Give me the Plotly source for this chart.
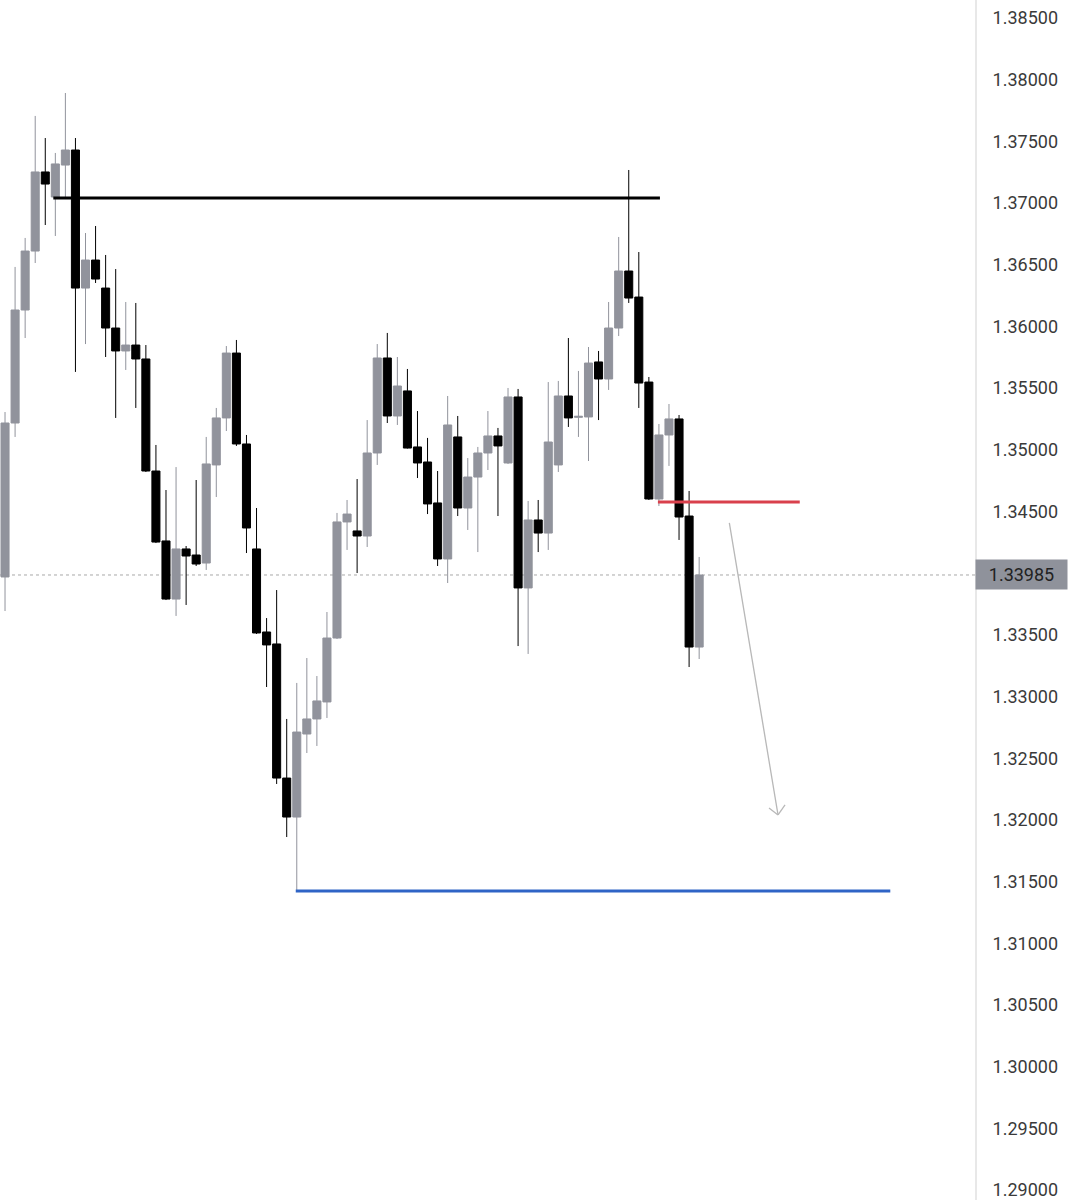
import plotly.graph_objects as go

# ---- data ----
opens = [1.33969, 1.35217, 1.36133, 1.36611, 1.37252, 1.37049, 1.37308, 1.37430, 1.36311, 1.36538,
         1.36311, 1.35987, 1.35801, 1.35849, 1.35736, 1.34828, 1.34261, 1.33790, 1.34196, 1.34147,
         1.34082, 1.34877, 1.35258, 1.35784, 1.35047, 1.34196, 1.33523, 1.33426, 1.32339, 1.32023,
         1.32696, 1.32818, 1.32956, 1.33474, 1.34415, 1.34342, 1.34301, 1.34974, 1.35744, 1.35274,
         1.35477, 1.35023, 1.34901, 1.34569, 1.34115, 1.35104, 1.34528, 1.34779, 1.34974, 1.35112,
         1.34893, 1.35428, 1.33880, 1.34431, 1.34325, 1.34877, 1.35436, 1.35263, 1.35266, 1.35712,
         1.35574, 1.35987, 1.36449, 1.36238, 1.35549, 1.34601, 1.35120, 1.35250, 1.34463, 1.33401]
highs = [1.35306, 1.36482, 1.36717, 1.37706, 1.37527, 1.37406, 1.37892, 1.37527, 1.36757, 1.36814,
         1.36579, 1.36465, 1.36198, 1.36190, 1.35849, 1.35039, 1.34674, 1.34860, 1.34220, 1.34755,
         1.35104, 1.35339, 1.35841, 1.35890, 1.35120, 1.34528, 1.33636, 1.33863, 1.32818, 1.33110,
         1.33312, 1.33166, 1.33685, 1.34488, 1.34593, 1.34763, 1.35241, 1.35857, 1.35947, 1.35752,
         1.35655, 1.35314, 1.35096, 1.34828, 1.35436, 1.35274, 1.34933, 1.35023, 1.35314, 1.35177,
         1.35501, 1.35493, 1.34585, 1.34593, 1.35549, 1.35558, 1.35906, 1.35639, 1.35833, 1.35801,
         1.36198, 1.36725, 1.37268, 1.36603, 1.35590, 1.35209, 1.35371, 1.35282, 1.34666, 1.34131]
lows = [1.33693, 1.35104, 1.35906, 1.36514, 1.36822, 1.36733, 1.37049, 1.35631, 1.35857, 1.36352,
        1.35752, 1.35258, 1.35647, 1.35339, 1.34820, 1.34244, 1.33782, 1.33653, 1.33742, 1.34058,
        1.34026, 1.34617, 1.35152, 1.35031, 1.34163, 1.33507, 1.33077, 1.32291, 1.31861, 1.31432,
        1.32542, 1.32599, 1.32826, 1.33466, 1.34188, 1.34001, 1.34212, 1.34877, 1.35217, 1.35201,
        1.35010, 1.34771, 1.34479, 1.34058, 1.33920, 1.34463, 1.34350, 1.34171, 1.34836, 1.34463,
        1.34885, 1.33409, 1.33345, 1.34171, 1.34188, 1.34820, 1.35185, 1.35104, 1.34909, 1.35241,
        1.35485, 1.35922, 1.36190, 1.35339, 1.34593, 1.34544, 1.34869, 1.34269, 1.33239, 1.33304]
closes = [1.35217, 1.36133, 1.36611, 1.37252, 1.37154, 1.37317, 1.37430, 1.36311, 1.36538, 1.36384,
          1.35987, 1.35801, 1.35849, 1.35736, 1.34828, 1.34252, 1.33790, 1.34196, 1.34139, 1.34074,
          1.34885, 1.35258, 1.35784, 1.35047, 1.34366, 1.33515, 1.33418, 1.32339, 1.32023, 1.32712,
          1.32818, 1.32964, 1.33474, 1.34415, 1.34479, 1.34301, 1.34974, 1.35744, 1.35274, 1.35517,
          1.35014, 1.34893, 1.34561, 1.34115, 1.35201, 1.34528, 1.34779, 1.34974, 1.35112, 1.35031,
          1.35428, 1.33880, 1.34431, 1.34325, 1.35063, 1.35436, 1.35258, 1.35271, 1.35703, 1.35574,
          1.35987, 1.36449, 1.36230, 1.35541, 1.34601, 1.35120, 1.35250, 1.34455, 1.33401, 1.33985]
bar_index = list(range(len(opens)))

current_price = 1.33985

# drawn levels: (price, start bar, end bar)
resistance_level = [1.37041, 4.8, 65.1]
entry_level = [1.34577, 64.9, 79.0]
target_level = [1.31424, 28.9, 88.0]
# projection arrow: (bar, price) start and end
arrow_start = [72.0, 1.34407]
arrow_end = [76.84, 1.32040]

# 1.34000 is hidden behind the current-price label in the reference
y_ticks = [1.29, 1.295, 1.30, 1.305, 1.31, 1.315, 1.32, 1.325, 1.33, 1.335,
           1.345, 1.35, 1.355, 1.36, 1.365, 1.37, 1.375, 1.38, 1.385]

# ---- styling ----
UP = "#91939c"
DOWN = "#000000"
FONT = "Roboto"

fig = go.Figure()
fig.add_trace(go.Candlestick(
    x=bar_index, open=opens, high=highs, low=lows, close=closes,
    increasing=dict(line=dict(color=UP, width=1), fillcolor=UP),
    decreasing=dict(line=dict(color=DOWN, width=1), fillcolor=DOWN),
    showlegend=False, hoverinfo="skip",
))

shapes = []
# current price dotted line
shapes.append(dict(type="line", xref="paper", yref="y", x0=0, x1=1,
                   y0=current_price, y1=current_price,
                   line=dict(color="#a8a8a8", width=1, dash="dot"), layer="below"))
for lvl, col in ((resistance_level, "#000000"), (entry_level, "#d9404c"), (target_level, "#2f64c6")):
    shapes.append(dict(type="line", xref="x", yref="y", x0=lvl[1], x1=lvl[2],
                       y0=lvl[0], y1=lvl[0], line=dict(color=col, width=3)))
# arrow shaft
shapes.append(dict(type="line", xref="x", yref="y", x0=arrow_start[0], y0=arrow_start[1],
                   x1=arrow_end[0], y1=arrow_end[1], line=dict(color="#b8b8b8", width=1.3)))
# open chevron head (pixel offsets around the tip)
for dx, dy in ((-9, 7), (7, 10)):
    shapes.append(dict(type="line", xref="x", yref="y", xsizemode="pixel", ysizemode="pixel",
                       xanchor=arrow_end[0], yanchor=arrow_end[1],
                       x0=dx, y0=dy, x1=0, y1=0, line=dict(color="#b8b8b8", width=1.3)))

fig.update_layout(
    width=1071, height=1200,
    margin=dict(l=0, r=96, t=0, b=0),
    paper_bgcolor="white", plot_bgcolor="white",
    font=dict(family=FONT, size=18, color="#333333"),
    boxgap=0.2, boxgroupgap=0,
    shapes=shapes,
    xaxis=dict(range=[-0.5, 96.42], visible=False, rangeslider=dict(visible=False),
               showgrid=False, zeroline=False),
    yaxis=dict(range=[1.289187, 1.386459], side="right", tickvals=y_ticks,
               tickformat=".5f", showgrid=False, zeroline=False,
               showline=True, linecolor="#e8e8e8", linewidth=2,
               ticks="", ticklabelstandoff=12, ticklabeloverflow="allow",
               tickfont=dict(family=FONT, size=18, color="#3a3a3a")),
    annotations=[dict(xref="paper", yref="y", x=1, y=current_price, xanchor="left",
                      yanchor="middle", text="1.33985", showarrow=False,
                      bgcolor="#8f929b", borderpad=4, width=83, align="center",
                      font=dict(family=FONT, size=18, color="#222222"))],
)

fig.write_html("out.html", config={"displayModeBar": False},
               post_script="document.body.style.margin='0px';document.body.style.overflow='hidden';")
